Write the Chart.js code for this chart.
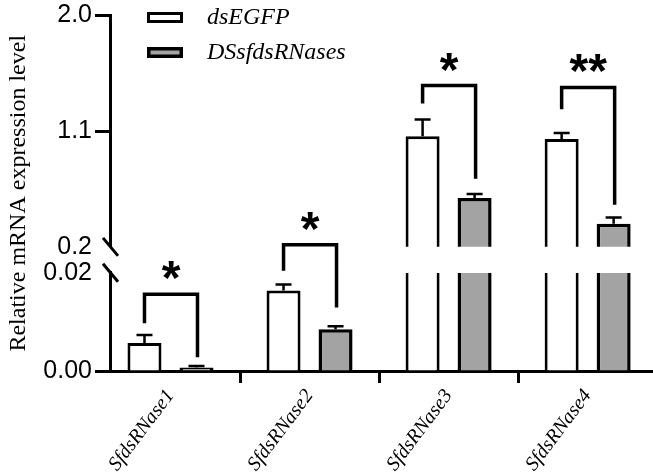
<!DOCTYPE html>
<html>
<head>
<meta charset="utf-8">
<script src="https://cdn.jsdelivr.net/npm/chart.js@4.4.0/dist/chart.umd.min.js"></script>
<style>
  html, body { margin: 0; padding: 0; background: #fff; }
  #wrap { width: 653px; height: 472px; }
</style>
</head>
<body>
<div id="wrap"><canvas id="chart" width="653" height="472"></canvas></div>
<script>
// categories and series values
const categories = ['SfdsRNase1', 'SfdsRNase2', 'SfdsRNase3', 'SfdsRNase4'];
const egfpValues = [0.0057, 0.0164, 1.06, 1.04];
const egfpErrors = [0.0016, 0.0012, 0.13, 0.046];
const rnaValues = [0.0007, 0.0085, 0.58, 0.38];
const rnaErrors = [0.0003, 0.0006, 0.031, 0.049];

// broken y axis: lower and upper segment ticks
const lowTicks = [0, 0.02];
const highTicks = [0.2, 1.1, 2.0];

// significance brackets: left leg end, top, right leg end (axis units)
const bracketLeft = [0.0097, 0.0204, 1.316, 1.270];
const bracketTop = [0.0156, 0.0257, 1.455, 1.440];
const bracketRight = [0.0028, 0.0129, 0.729, 0.528];
const sigLabels = ['*', '*', '*', '**'];

const lowMax = lowTicks[lowTicks.length - 1];

// styles per series
const seriesStyles = [
  { label: 'dsEGFP', fill: '#ffffff', border: 3 },
  { label: 'DSsfdsRNases', fill: '#a3a3a3', border: 3.5 }
];
const allValues = [egfpValues, rnaValues];
const allErrors = [egfpErrors, rnaErrors];

function buildDatasets() {
  const sets = [];
  // lower segment part
  allValues.forEach((vals, s) => {
    const st = seriesStyles[s];
    sets.push({
      label: st.label,
      data: vals.map((v, i) => ({ x: i, y: Math.min(v, lowMax) })),
      yAxisID: 'yLow',
      stack: 's' + s,
      backgroundColor: st.fill,
      borderColor: '#000',
      borderWidth: ctx => vals[ctx.dataIndex] > lowMax
        ? { left: st.border, right: st.border, top: 0, bottom: 0 }
        : st.border
    });
  });
  // upper segment part
  allValues.forEach((vals, s) => {
    const st = seriesStyles[s];
    sets.push({
      label: st.label,
      data: vals.map((v, i) => ({ x: i, y: v > lowMax ? v : null })),
      yAxisID: 'yHigh',
      stack: 's' + s,
      backgroundColor: st.fill,
      borderColor: '#000',
      borderWidth: st.border
    });
  });
  return sets;
}

function axisFor(chart, i) {
  const big = Math.max(egfpValues[i], rnaValues[i]) > lowMax;
  return chart.scales[big ? 'yHigh' : 'yLow'];
}

// error bars, brackets and stars
const extrasPlugin = {
  id: 'extras',
  afterDatasetsDraw(chart) {
    const ctx = chart.ctx;
    ctx.save();
    ctx.strokeStyle = '#000';
    // error bars
    allValues.forEach((vals, s) => {
      vals.forEach((v, i) => {
        const high = v > lowMax;
        const scale = chart.scales[high ? 'yHigh' : 'yLow'];
        const bar = chart.getDatasetMeta(high ? 2 + s : s).data[i];
        const y1 = scale.getPixelForValue(v);
        const y2 = scale.getPixelForValue(v + allErrors[s][i]);
        ctx.lineWidth = 2.5;
        ctx.beginPath();
        ctx.moveTo(bar.x, y1);
        ctx.lineTo(bar.x, y2);
        ctx.moveTo(bar.x - 8, y2);
        ctx.lineTo(bar.x + 8, y2);
        ctx.stroke();
      });
    });
    // brackets
    categories.forEach((c, i) => {
      const scale = axisFor(chart, i);
      const xl = chart.getDatasetMeta(0).data[i].x;
      const xr = chart.getDatasetMeta(1).data[i].x + 1;
      const yt = scale.getPixelForValue(bracketTop[i]);
      ctx.lineWidth = 3.5;
      ctx.lineJoin = 'miter';
      ctx.beginPath();
      ctx.moveTo(xl, scale.getPixelForValue(bracketLeft[i]));
      ctx.lineTo(xl, yt);
      ctx.lineTo(xr, yt);
      ctx.lineTo(xr, scale.getPixelForValue(bracketRight[i]));
      ctx.stroke();
      ctx.font = 'bold 48px "Liberation Sans"';
      ctx.fillStyle = '#000';
      ctx.textAlign = 'center';
      ctx.textBaseline = 'alphabetic';
      const m = ctx.measureText(sigLabels[i]);
      const cy = yt - 24;
      ctx.fillText(sigLabels[i], (xl + xr) / 2, cy + (m.actualBoundingBoxAscent - m.actualBoundingBoxDescent) / 2);
    });
    ctx.restore();
  },
  afterDraw(chart) {
    const ctx = chart.ctx;
    ctx.save();
    // axis break marks
    const hi = chart.scales.yHigh, lo = chart.scales.yLow;
    const ax = hi.right;
    ctx.strokeStyle = '#000';
    ctx.lineWidth = 3;
    [hi.bottom, lo.top].forEach(y => {
      ctx.beginPath();
      ctx.moveTo(ax - 7, y - 9);
      ctx.lineTo(ax + 8, y + 9);
      ctx.stroke();
    });
    // legend
    seriesStyles.forEach((st, k) => {
      const y = 12 + k * 35;
      ctx.fillStyle = '#000';
      ctx.fillRect(147, y, 36, 11);
      ctx.fillStyle = st.fill;
      ctx.fillRect(147 + st.border, y + st.border, 36 - 2 * st.border, 11 - 2 * st.border);
      ctx.fillStyle = '#000';
      ctx.font = 'italic 24px "Liberation Serif"';
      ctx.textAlign = 'left';
      ctx.textBaseline = 'middle';
      ctx.fillText(st.label, 207, y + 6);
    });
    ctx.restore();
  }
};

const axisFont = { family: 'Liberation Sans', size: 25, lineHeight: 1 };

new Chart(document.getElementById('chart'), {
  type: 'bar',
  data: { datasets: buildDatasets() },
  options: {
    responsive: false,
    animation: false,
    events: [],
    devicePixelRatio: 1,
    layout: { padding: 0 },
    categoryPercentage: 0.748,
    barPercentage: 0.654,
    plugins: { legend: { display: false }, tooltip: { enabled: false } },
    scales: {
      x: {
        type: 'linear',
        min: -0.435,
        max: 3.47,
        offset: false,
        afterBuildTicks: s => { s.ticks = categories.map((c, i) => ({ value: i })); },
        afterFit: s => { s.height = 101; },
        ticks: {
          callback: v => categories[v],
          font: { family: 'Liberation Serif', size: 20, style: 'italic' },
          color: '#000',
          minRotation: 53,
          maxRotation: 53,
          autoSkip: false,
          padding: 2
        },
        grid: { drawOnChartArea: false, tickLength: 12, tickWidth: 3, tickColor: '#000' },
        border: { color: '#000', width: 3 }
      },
      yLow: {
        type: 'linear',
        position: 'left',
        stack: 'yaxis',
        stackWeight: 99,
        min: lowTicks[0],
        max: lowMax,
        stacked: false,
        afterBuildTicks: s => { s.ticks = lowTicks.map(v => ({ value: v })); },
        afterFit: s => { s.width = 80; },
        ticks: { callback: v => v.toFixed(2), font: axisFont, color: '#000', padding: 3 },
        grid: {
          drawOnChartArea: false, tickLength: 15, tickWidth: 3,
          tickColor: c => (c.tick && c.tick.value === lowMax) ? 'rgba(0,0,0,0)' : '#000'
        },
        border: { color: '#000', width: 3 }
      },
      yGap: {
        type: 'linear',
        position: 'left',
        stack: 'yaxis',
        stackWeight: 26,
        afterFit: s => { s.width = 80; },
        ticks: { display: false },
        grid: { display: false },
        border: { display: false }
      },
      yHigh: {
        type: 'linear',
        position: 'left',
        stack: 'yaxis',
        stackWeight: 233,
        min: highTicks[0],
        max: highTicks[highTicks.length - 1],
        stacked: false,
        afterBuildTicks: s => { s.ticks = highTicks.map(v => ({ value: v })); },
        afterFit: s => { s.width = 80; },
        ticks: { callback: v => v.toFixed(1), font: axisFont, color: '#000', padding: 3 },
        grid: {
          drawOnChartArea: false, tickLength: 15, tickWidth: 3,
          tickColor: c => (c.tick && c.tick.value === highTicks[0]) ? 'rgba(0,0,0,0)' : '#000'
        },
        border: { color: '#000', width: 3 }
      },
      yTitle: {
        type: 'linear',
        position: 'left',
        afterFit: s => { s.width = 30; },
        ticks: { display: false },
        grid: { display: false },
        border: { display: false },
        title: {
          display: true,
          text: 'Relative mRNA expression level',
          font: { family: 'Liberation Serif', size: 24 },
          color: '#000',
          padding: { top: 4, bottom: 0 }
        }
      }
    }
  },
  plugins: [extrasPlugin]
});
</script>
</body>
</html>
